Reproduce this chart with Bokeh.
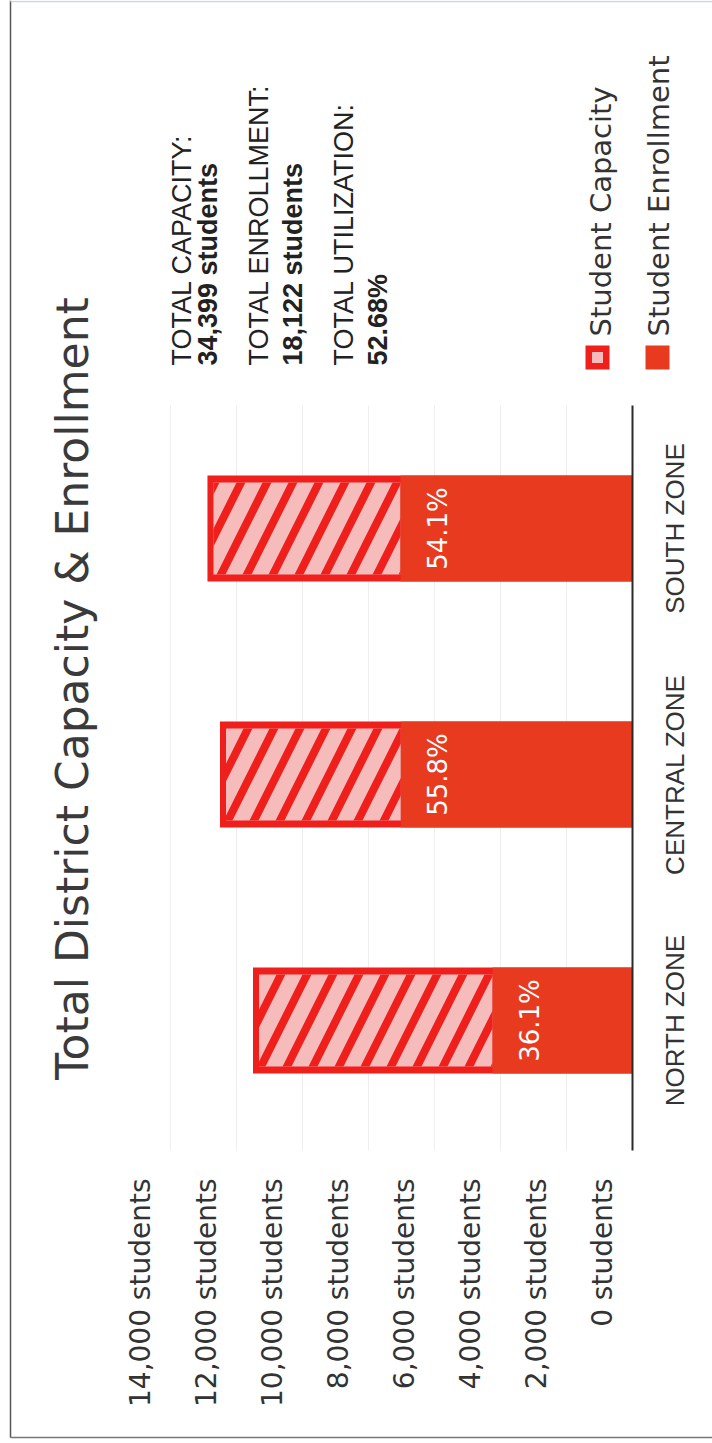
from math import pi

from bokeh.plotting import figure
from bokeh.models import Range1d, ColumnDataSource
from bokeh.core.properties import value
from bokeh.embed import file_html
from bokeh.resources import INLINE

# ---------------- data ----------------
zones = ["NORTH ZONE", "CENTRAL ZONE", "SOUTH ZONE"]
capacity = [11500, 12500, 12880]
enrollment = [4240, 7020, 7030]
utilization_labels = ["36.1%", "55.8%", "54.1%"]

ticks = [0, 2000, 4000, 6000, 8000, 10000, 12000, 14000]
tick_labels = ["0 students", "2,000 students", "4,000 students", "6,000 students",
               "8,000 students", "10,000 students", "12,000 students", "14,000 students"]

title_text = "Total District Capacity & Enrollment"
stats_heads = ["TOTAL CAPACITY:", "TOTAL ENROLLMENT:", "TOTAL UTILIZATION:"]
stats_values = ["34,399 students", "18,122 students", "52.68%"]
legend_labels = ["Student Capacity", "Student Enrollment"]

# ---------------- layout (page is drawn rotated 90 degrees) ----------------
W, H = 712, 1443
BASE_PX = 632          # screen x of the zero line
PX_PER_UNIT = 0.033    # screen px per student
ROW_PX = 246           # distance between zone rows
FIRST_ROW_PX = 1020    # screen y of first zone

def vx(px):
    return (BASE_PX - px) / PX_PER_UNIT

def cy(py):
    return (FIRST_ROW_PX - py) / ROW_PX

def upx(px):
    return px / PX_PER_UNIT

RED = "#ef1f1c"
ORANGE = "#e83a1e"
PINK = "#f6bcbc"
TXT = "#333333"

p = figure(width=W, height=H,
           x_range=Range1d(vx(0), vx(W)), y_range=Range1d(cy(H), cy(0)),
           output_backend="svg", toolbar_location=None, min_border=0,
           x_axis_location=None, y_axis_location=None,
           outline_line_color=None, background_fill_color="white",
           border_fill_color="white")
p.grid.visible = False

rows = list(range(len(zones)))
BAR_H = 106 / ROW_PX
INNER_H = 92 / ROW_PX

src = ColumnDataSource(dict(
    row=rows, zone=zones, capacity=capacity, enrollment=enrollment,
    cap_inner=[c - upx(6) for c in capacity],
    label_x=[e - upx(37) for e in enrollment],
    util=utilization_labels,
))

# faint grid lines
p.segment(x0=ticks[1:], x1=ticks[1:], y0=cy(1150), y1=cy(405),
          line_color="#eeeeee", line_width=1)

# capacity bars (red frame) with hatched inside
p.hbar(y="row", left=0, right="capacity", height=BAR_H, source=src,
       fill_color=RED, line_color=None)
p.hbar(y="row", left="enrollment", right="cap_inner", height=INNER_H, source=src,
       fill_color=PINK, line_color=None,
       hatch_pattern="/", hatch_color=RED, hatch_scale=52, hatch_weight=8)
# enrollment bars
p.hbar(y="row", left=0, right="enrollment", height=BAR_H, source=src,
       fill_color=ORANGE, line_color=None)

# utilization labels in bars
p.text(x="label_x", y="row", text="util", source=src, angle=pi / 2,
       text_align="center", text_baseline="middle", text_color="white",
       text_font=value("DejaVu Sans"), text_font_size="26px")

# zero line
p.segment(x0=[0], x1=[0], y0=[cy(1150)], y1=[cy(405)],
          line_color="#2a2a2a", line_width=2)

# zone labels
p.text(x=vx(674), y="row", text="zone", source=src, angle=pi / 2,
       text_align="center", text_baseline="middle", text_color=TXT,
       text_font=value("Liberation Sans"), text_font_size="26px")

# value tick labels
p.text(x=[t + upx(30) for t in ticks], y=[cy(1178)] * len(ticks), text=tick_labels,
       angle=pi / 2, text_align="right", text_baseline="middle", text_color=TXT,
       text_font=value("DejaVu Sans"), text_font_size="28px")

# title
p.text(x=[vx(72)], y=[cy(688)], text=[title_text], angle=pi / 2,
       text_align="center", text_baseline="middle", text_color="#3a3a3a",
       text_font=value("DejaVu Sans"), text_font_size="44px")

# totals block
p.text(x=[vx(181), vx(258), vx(343)], y=[cy(365)] * 3, text=stats_heads,
       angle=pi / 2, text_align="left", text_baseline="middle", text_color="#222222",
       text_font=value("Liberation Sans"), text_font_size="27px")
p.text(x=[vx(207), vx(292), vx(377)], y=[cy(365)] * 3, text=stats_values,
       angle=pi / 2, text_align="left", text_baseline="middle", text_color="#222222",
       text_font=value("Liberation Sans"), text_font_size="27px", text_font_style="bold")

# legend
p.scatter(x=[vx(597), vx(657)], y=[cy(357)] * 2, marker="square", size=24,
          fill_color=[RED, ORANGE], line_color=None)
p.scatter(x=[vx(597)], y=[cy(357)], marker="square", size=11,
          fill_color=PINK, line_color=None)
p.text(x=[vx(600), vx(658)], y=[cy(336)] * 2, text=legend_labels, angle=pi / 2,
       text_align="left", text_baseline="middle", text_color=TXT,
       text_font=value("DejaVu Sans"), text_font_size="29px")

# frame of the page
p.line(x=[vx(10), vx(10)], y=[cy(0), cy(1437)], line_color="#555555", line_width=1.5)
p.line(x=[vx(10), vx(W)], y=[cy(1437), cy(1437)], line_color="#777777", line_width=1.5)
p.line(x=[vx(10), vx(W)], y=[cy(1), cy(1)], line_color="#d0d4dc", line_width=1.5)

open("out.html", "w").write(file_html(p, INLINE))
